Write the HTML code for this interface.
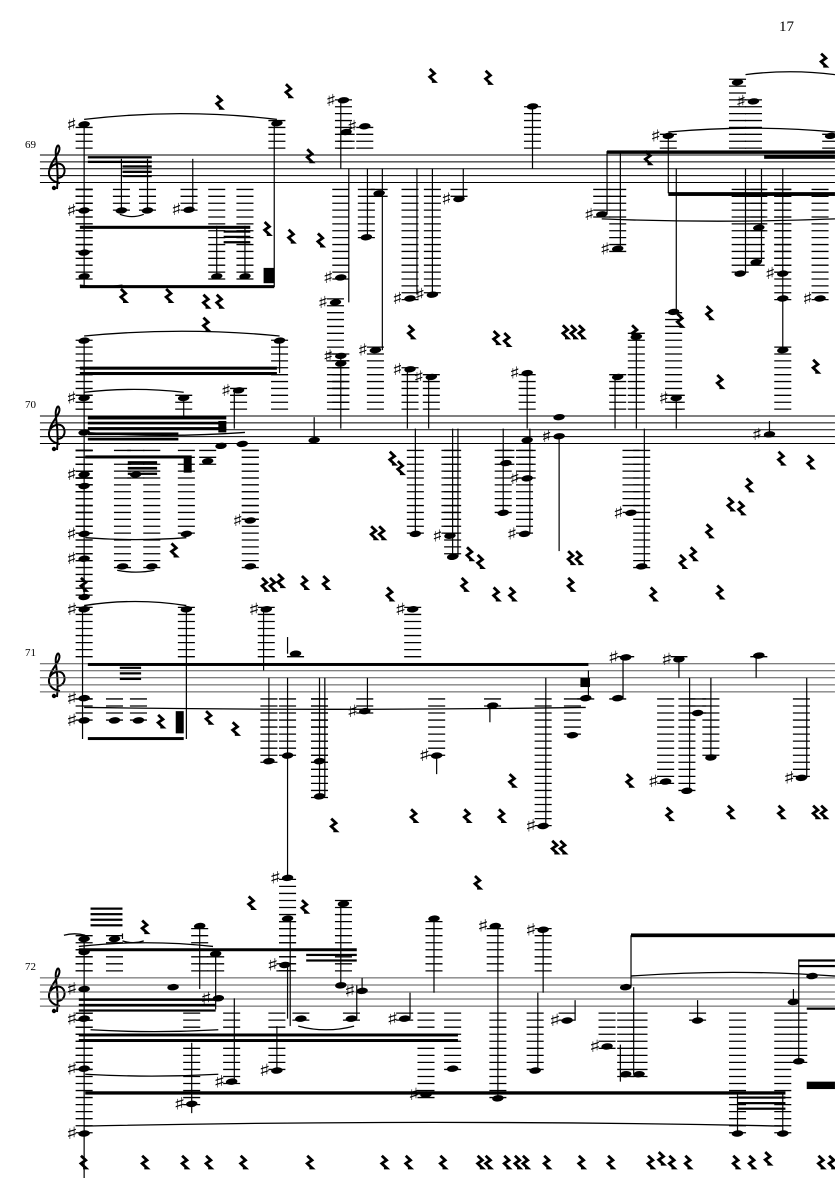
<!DOCTYPE html>
<html><head><meta charset="utf-8"><style>
html,body{margin:0;padding:0;background:#fff;width:835px;height:1181px;overflow:hidden}
svg{display:block}
</style></head><body>
<svg id="s" width="835" height="1181" viewBox="0 0 835 1181" xmlns="http://www.w3.org/2000/svg">
<rect width="835" height="1181" fill="#fff"/>
<text x="779" y="31" font-family="Liberation Serif, serif" font-size="15">17</text>
<text x="25" y="148" font-family="Liberation Serif, serif" font-size="11">69</text>
<text x="25" y="408" font-family="Liberation Serif, serif" font-size="11">70</text>
<text x="25" y="656" font-family="Liberation Serif, serif" font-size="11">71</text>
<text x="25" y="970" font-family="Liberation Serif, serif" font-size="11">72</text>
<g id="clefs" fill="none" stroke="#000" stroke-width="2"></g>
<g id="z1" transform="scale(0.5325,0.3827)"></g>
<g id="z2" transform="translate(0,600) scale(0.5325,0.3705)"></g>
</svg>
<script>
var NS="http://www.w3.org/2000/svg";
function el(g,t,a,txt){var e=document.createElementNS(NS,t);for(var k in a)e.setAttribute(k,a[k]);if(txt)e.textContent=txt;g.appendChild(e);return e;}
var cl=document.getElementById('clefs');
[155,416,663,978].forEach(function(t){
 el(cl,'path',{d:'M58 '+(t-10)+' C52 '+(t-2)+' 60 '+(t+6)+' 57 '+(t+34)+' M60 '+(t+28)+' C46 '+(t+26)+' 46 '+(t+12)+' 56 '+(t+9)+' C66 '+(t+6)+' 68 '+(t+22)+' 58 '+(t+23)+' M58 '+(t-10)+' C64 '+(t-4)+' 50 '+(t+6)+' 50 '+(t+14)});
 el(cl,'circle',{cx:54,cy:t+33,r:2.2,fill:'#000',stroke:'none'});
});
function build(g,staffs,gap,notes,stems,beams,rests,ties,color){
 staffs.forEach(function(t){for(var i=0;i<5;i++)el(g,'line',{x1:75,x2:1568,y1:t+i*gap,y2:t+i*gap,stroke:color||'#000','stroke-width':1,'vector-effect':'non-scaling-stroke'});});
 function staffOf(y){var best=staffs[0];staffs.forEach(function(t){if(Math.abs(y-(t+2*gap))<Math.abs(y-(best+2*gap)))best=t;});return best;}
 notes.forEach(function(n){
  var x=n[0],y=n[1],t=staffOf(y),b=t+4*gap;
  if(y<t-gap/2){for(var yy=t-gap;yy>=y-gap/2;yy-=gap)el(g,'line',{x1:x-16,x2:x+16,y1:yy,y2:yy,stroke:'#000','stroke-width':1.3,'vector-effect':'non-scaling-stroke'});}
  if(y>b+gap/2){for(var yy=b+gap;yy<=y+gap/2;yy+=gap)el(g,'line',{x1:x-16,x2:x+16,y1:yy,y2:yy,stroke:'#000','stroke-width':1.3,'vector-effect':'non-scaling-stroke'});}
  el(g,'ellipse',{cx:x,cy:y,rx:11,ry:gap*0.45,fill:'#000',transform:'rotate(-15 '+x+' '+y+')'});
  if(n[2]==='s')el(g,'text',{x:x-34,y:y+gap*0.8,'font-size':gap*2.4,'font-family':'DejaVu Sans, sans-serif'},'♯');
 });
 stems.forEach(function(s){el(g,'line',{x1:s[0],x2:s[0],y1:s[1],y2:s[2],stroke:'#000','stroke-width':1.2,'vector-effect':'non-scaling-stroke'});});
 beams.forEach(function(b){el(g,'rect',{x:b[0],y:b[1],width:b[2]-b[0],height:b[3]||8,fill:'#000'});});
 rests.forEach(function(r){var x=r[0],y=r[1];el(g,'path',{d:'M'+(x-3)+' '+(y-20)+' l9 12 l-9 9 l9 12 l-5 0',fill:'none',stroke:'#000','stroke-width':2.8,'vector-effect':'non-scaling-stroke'});});
 ties.forEach(function(t){el(g,'path',{d:'M'+t[0]+' '+t[2]+' Q'+((t[0]+t[1])/2)+' '+(t[2]-(t[3]||25))+' '+t[1]+' '+t[2],fill:'none',stroke:'#000','stroke-width':1.3,'vector-effect':'non-scaling-stroke'});});
}
var z1=document.getElementById('z1'),z2=document.getElementById('z2');
build(z1,[405,1087],18,
[[158,325,'s'],[158,550,'s'],[158,660],[158,722],[228,550],[277,550],[355,548,'s'],[407,722],[460,722],[520,322],
[645,262,'s'],[650,345],[685,330,'s'],[640,725,'s'],[630,790,'s'],[712,505],[688,620],[705,915,'s'],[770,780,'s'],[812,770,'s'],[862,520,'s'],[1000,278],
[1130,560,'s'],[1160,650,'s'],[1255,355,'s'],[1265,815],[1385,215],[1415,265,'s'],[1390,715],[1420,685],[1425,595],[1470,715,'s'],[1470,780],[1470,915],[1540,780,'s'],[1560,355],
[158,890],[525,890],[158,1040,'s'],[158,1130],[158,1240,'s'],[158,1270],[158,1395,'s'],[158,1460,'s'],[158,1560],[345,1040],[255,1240],[230,1480],[285,1480],[350,1395],
[390,1205],[415,1165],[455,1160],[470,1360,'s'],[470,1480],[448,1020,'s'],[590,1150],[640,930,'s'],[640,950],[770,965,'s'],[810,985,'s'],[780,1395],[845,1400,'s'],[850,1455],
[950,1210],[945,1340],[990,1150],[990,1250,'s'],[985,1395,'s'],[1050,1140,'s'],[1050,1090],[990,975,'s'],[1160,985],[1195,880],[1205,1480],[1185,1340,'s'],[1270,1040,'s'],[1445,1135,'s']],
[[158,325,750],[228,415,550],[277,415,550],[362,415,548],[407,590,722],[460,590,722],[515,322,750],[640,262,440],[655,440,790],[690,440,620],[718,440,915],[783,440,770],[812,440,770],[870,440,520],[1000,278,440],
[1140,395,560],[1165,395,650],[1255,355,505],[1270,440,815],[1400,440,715],[1430,440,685],[1470,440,915],
[158,890,1560],[525,890,975],[345,1040,1090],[440,1020,1120],[590,1090,1150],[640,930,1120],[765,965,1120],[805,985,1120],[780,1120,1395],[850,1120,1455],[860,1120,1455],[990,975,1120],[995,1120,1395],[945,1120,1340],[1050,1140,1440],[1155,985,1120],[1195,880,1120],[1210,1120,1480],[1270,1040,1120],[1445,1100,1135]],
[[165,408,285,6],[165,420,285,6],[230,432,285,6],[230,446,285,6],[230,458,285,5],[150,590,470,8],[420,602,470,6],[420,616,470,6],[420,630,470,6],[150,745,515,8],[495,700,515,40],
[1140,393,1568,9],[1255,502,1568,10],[1435,405,1568,10],
[150,958,520,8],[150,972,520,8],[165,1088,425,8],[165,1102,425,7],[165,1116,425,7],[165,1130,335,7],[165,1144,335,7],[160,1190,360,8],[240,1205,295,7],[240,1220,295,7],[240,1235,295,6],[345,1195,360,40],[410,1100,425,30]],
[[810,200],[915,205],[1545,160],[410,270],[540,240],[580,410],[500,600],[545,620],[600,630],[230,775],[315,775],[385,790],[410,790],[385,850],[1215,415],[1330,820],[1275,840],
[770,870],[930,885],[950,890],[1060,870],[1075,870],[1090,870],[1190,870],[1350,1000],[1530,960],[735,1200],[750,1225],[1465,1200],[1520,1210],[1370,1320],[1390,1330],[1405,1270],
[700,1395],[715,1395],[880,1450],[900,1470],[1070,1460],[1085,1460],[1280,1470],[1300,1450],[1330,1390],[325,1440],[495,1530],[510,1530],[525,1520],[570,1525],[610,1525],[730,1555],[870,1530],[930,1555],[960,1555],[1070,1530],[1225,1555],[1350,1550],[155,1530]],
[[158,520,312,30],[1255,1568,345,20],[1130,1568,572,-12],[1400,1568,195,15],[158,525,878,25],[158,345,1025,15],[158,460,1130,-15],[160,350,1405,-10],[220,290,1490,-10],[225,270,560,-12],[150,230,745,-8]]);
build(z2,[172,1020],19,
[[158,25,'s'],[158,265,'s'],[158,325,'s'],[215,325],[260,325],[350,25],[500,25,'s'],[555,145],[775,25,'s'],[505,435],[540,420],[600,435],[600,530],[540,750,'s'],
[685,300,'s'],[820,420,'s'],[925,285],[1020,610,'s'],[1075,365],[1100,265],[1160,265],[1175,155,'s'],[1275,160,'s'],[1290,515],[1250,490,'s'],[1310,305],[1335,425],[1425,150],[1505,480,'s'],
[1175,1045],[158,915],[158,950],[158,1050,'s'],[158,1130,'s'],[158,1265,'s'],[158,1440,'s'],[215,915],[375,880],[405,955],[410,1075,'s'],[435,1300,'s'],[360,1360,'s'],[325,1045],
[540,860],[535,985,'s'],[565,1130],[520,1270,'s'],[645,820],[640,1040],[660,1130],[680,1055,'s'],[815,860],[760,1130,'s'],[800,1335,'s'],[850,1265],[930,880,'s'],[935,1345],[1020,890,'s'],[1005,1270],[1065,1135,'s'],[1140,1205,'s'],[1175,1280],[1200,1280],[1310,1135],[1385,1440],[1470,1440],[1490,1085],[1525,1015],[1500,1245]],
[[155,25,375],[350,25,375],[495,25,190],[540,100,145],[505,210,435],[540,210,750],[600,210,530],[610,210,530],[690,210,300],[820,420,470],[920,285,330],[1025,210,610],[1105,190,265],[1170,155,265],[1275,160,210],[1295,210,515],[1335,210,425],[1420,150,210],[1515,210,480],
[1185,905,1045],[158,905,1560],[230,900,915],[375,880,1050],[405,955,1105],[440,1075,1300],[360,1195,1385],[545,860,1150],[540,985,1130],[520,1150,1270],[640,820,1040],[670,1040,1130],[680,1055,1020],[815,860,1060],[770,1130,1060],[935,880,1345],[1020,890,1060],[1010,1060,1270],[1080,1135,1080],[1165,1200,1300],[1190,1045,1280],[1310,1135,1080],[1385,1330,1440],[1470,1330,1440],[1500,970,1245],[1490,1085,1050]],
[[165,170,495,8],[165,370,345,8],[495,170,1105,8],[225,180,265,6],[225,195,265,6],[225,210,265,6],[330,300,345,60],[1090,210,1108,25],
[1185,900,1568,10],[170,830,230,6],[170,845,230,6],[170,860,230,6],[170,875,230,6],[148,940,670,8],[148,1075,405,7],[148,1090,405,7],[148,1105,405,6],[575,955,670,6],[575,970,670,6],[148,1170,860,8],[148,1185,860,8],[160,1326,1475,9],[1385,1340,1475,6],[1385,1355,1475,6],[1385,1370,1475,6],[1500,970,1568,6],[1500,985,1568,6],[1515,1100,1568,6],[1515,1300,1568,20]],
[[390,320],[440,350],[300,330],[960,490],[1180,490],[625,610],[775,585],[875,585],[940,585],[1255,580],[1370,575],[1465,575],[1530,575],[1545,575],[1040,670],[1055,670],[895,765],[470,820],[270,885],[570,830],
[155,1520],[270,1520],[345,1520],[390,1520],[455,1520],[580,1520],[720,1520],[765,1520],[830,1520],[900,1520],[915,1520],[950,1520],[970,1520],[985,1520],[1025,1520],[1090,1520],[1145,1520],[1220,1520],[1240,1510],[1260,1520],[1290,1520],[1380,1520],[1410,1520],[1440,1510],[1540,1520],[1560,1520]],
[[158,350,15,22],[158,1100,290,-10],[158,1470,1420,20],[148,400,935,20],[1185,1568,1015,20],[560,665,1150,-20],[120,160,905,8],[230,270,920,-10],[160,410,1280,-10],[170,410,1160,-10]],'#555');
</script>
</body></html>
